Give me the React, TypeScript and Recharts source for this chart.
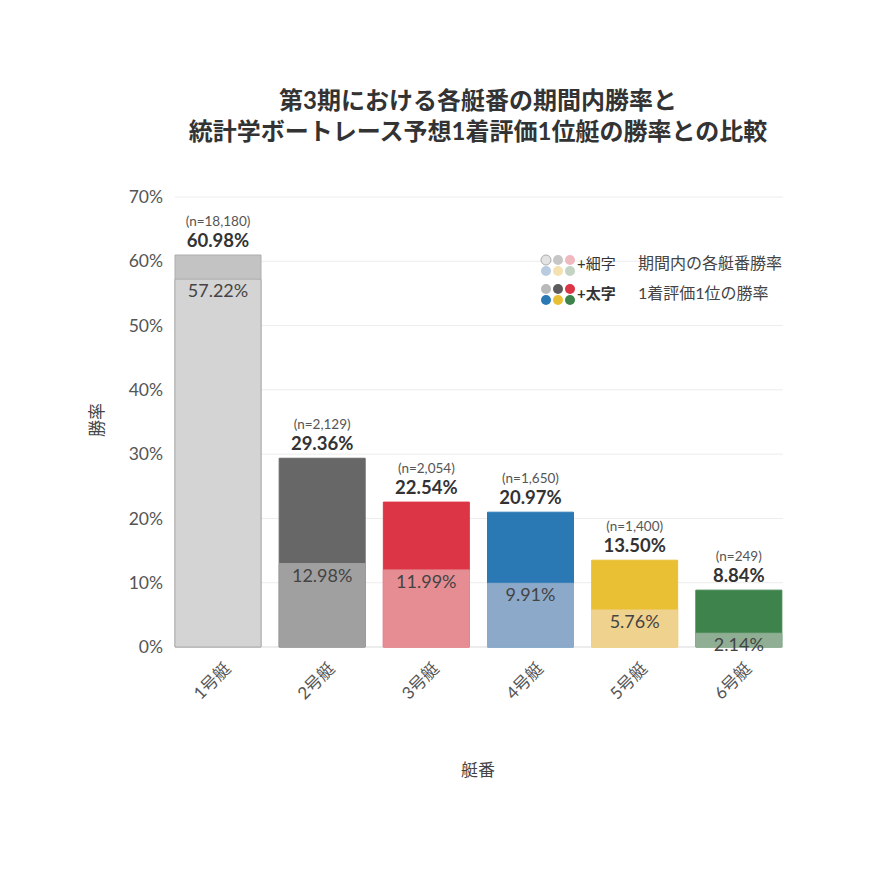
import { BarChart, Bar, XAxis, YAxis, CartesianGrid, Cell, LabelList } from 'recharts';

const boats = ['1号艇', '2号艇', '3号艇', '4号艇', '5号艇', '6号艇'];
const topRate = [60.98, 29.36, 22.54, 20.97, 13.5, 8.84];
const periodRate = [57.22, 12.98, 11.99, 9.91, 5.76, 2.14];
const raceCounts = ['18,180', '2,129', '2,054', '1,650', '1,400', '249'];
const yTicks = [0, 10, 20, 30, 40, 50, 60, 70];

const darkColors = ['#c3c3c3', '#676767', '#dc3545', '#2a79b5', '#e9bf33', '#3d834b'];
const lightColors = ['#d4d4d4', '#a0a0a0', '#e58d93', '#8da9c9', '#efd28e', '#8fae93'];
const legendLight = ['#e3e3e3', '#c6c6c6', '#f0b8bf', '#b8cbe1', '#f3e2b0', '#c3d3c4'];
const legendDark = ['#b9b9b9', '#5c5c5c', '#dc3545', '#2a79b5', '#e9bf33', '#3d834b'];

const FONT = "Lato, 'Noto Sans CJK JP', sans-serif";

const data = boats.map((name, i) => ({
  name,
  top: topRate[i],
  period: periodRate[i],
  n: raceCounts[i],
}));

function TopLabel(props: any) {
  const { x, y, width, index } = props;
  const cx = x + width / 2;
  return (
    <g fontFamily={FONT}>
      <text x={cx} y={y - 29} textAnchor="middle" fontSize={13.5} fill="#555">
        (n={raceCounts[index]})
      </text>
      <text x={cx} y={y - 8} textAnchor="middle" fontSize={18.5} fontWeight={700} fill="#333">
        {topRate[index].toFixed(2)}%
      </text>
    </g>
  );
}

function InnerLabel(props: any) {
  const { x, y, width, index } = props;
  return (
    <text x={x + width / 2} y={y + 18} textAnchor="middle" fontSize={18} fill="#444" fontFamily={FONT}>
      {periodRate[index].toFixed(2)}%
    </text>
  );
}

function BoatTick(props: any) {
  const { x, y, payload } = props;
  return (
    <text
      transform={`translate(${x + 9},${y + 10}) rotate(-45)`}
      textAnchor="end"
      dominantBaseline="central"
      fontSize={17}
      fill="#555"
      fontFamily={FONT}
    >
      {payload.value}
    </text>
  );
}

function gridLine(p: any) {
  const isBase = p.index === 0;
  return (
    <line
      key={`g-${p.index}`}
      x1={p.x1 + 9}
      x2={p.x2 - 8}
      y1={p.y1}
      y2={p.y2}
      stroke={isBase ? '#d9d9d9' : '#ececec'}
      strokeWidth={1}
    />
  );
}

function Dots({ colors, y, outlineFirst }: { colors: string[]; y: number; outlineFirst?: boolean }) {
  return (
    <>
      {colors.map((c, i) => (
        <circle
          key={i}
          cx={16 + (i % 3) * 12}
          cy={y + Math.floor(i / 3) * 11}
          r={5}
          fill={c}
          stroke={i === 0 && outlineFirst ? '#9a9a9a' : 'none'}
          strokeWidth={0.8}
        />
      ))}
    </>
  );
}

function LegendBox() {
  return (
    <g transform="translate(530,245)" fontFamily={FONT}>
      <Dots colors={legendLight} y={15} outlineFirst />
      <text x={47} y={20} dominantBaseline="middle" fontSize={15} fill="#333">+細字</text>
      <text x={108} y={20} dominantBaseline="middle" fontSize={16} fill="#444">期間内の各艇番勝率</text>
      <Dots colors={legendDark} y={44} />
      <text x={47} y={50} dominantBaseline="middle" fontSize={15} fontWeight={700} fill="#333">+太字</text>
      <text x={108} y={50} dominantBaseline="middle" fontSize={16} fill="#444">1着評価1位の勝率</text>
    </g>
  );
}

export default function App() {
  return (
    <div style={{ position: 'absolute', left: 0, top: 0, width: 870, height: 870, background: '#fff', fontFamily: FONT }}>
      <BarChart
        width={870}
        height={870}
        data={data}
        margin={{ top: 197, right: 79, bottom: 163, left: 106 }}
      >
        <text x={478} y={109} textAnchor="middle" fontSize={24} fontWeight={700} fill="#333" fontFamily={FONT}>
          第3期における各艇番の期間内勝率と
        </text>
        <text x={478} y={140} textAnchor="middle" fontSize={24} fontWeight={700} fill="#333" fontFamily={FONT}>
          統計学ボートレース予想1着評価1位艇の勝率との比較
        </text>
        <text
          transform="translate(96,420) rotate(-90)"
          textAnchor="middle"
          dominantBaseline="central"
          fontSize={17}
          fill="#444"
          fontFamily={FONT}
        >
          勝率
        </text>
        <text x={478} y={776} textAnchor="middle" fontSize={17} fill="#444" fontFamily={FONT}>
          艇番
        </text>
        <LegendBox />
        <CartesianGrid vertical={false} horizontal={gridLine} />
        <XAxis
          xAxisId="a"
          dataKey="name"
          height={60}
          axisLine={false}
          tickLine={false}
          tick={<BoatTick />}
          interval={0}
        />
        <XAxis xAxisId="b" dataKey="name" hide />
        <YAxis
          domain={[0, 70]}
          ticks={yTicks}
          width={60}
          axisLine={false}
          tickLine={false}
          tickSize={0}
          tickMargin={3}
          tickFormatter={(v: number) => `${v}%`}
          tick={{ fontSize: 17.5, fill: '#555', fontFamily: FONT }}
        />
        <Bar xAxisId="a" dataKey="top" barSize={86} isAnimationActive={false}>
          {data.map((d, i) => (
            <Cell key={d.name} fill={darkColors[i]} stroke={i === 0 ? '#adadad' : darkColors[i]} strokeWidth={1} />
          ))}
          <LabelList dataKey="top" content={<TopLabel />} />
        </Bar>
        <Bar xAxisId="b" dataKey="period" barSize={86} isAnimationActive={false}>
          {data.map((d, i) => (
            <Cell key={d.name} fill={lightColors[i]} stroke={i === 0 ? '#adadad' : lightColors[i]} strokeWidth={1} />
          ))}
          <LabelList dataKey="period" content={<InnerLabel />} />
        </Bar>
      </BarChart>
    </div>
  );
}
